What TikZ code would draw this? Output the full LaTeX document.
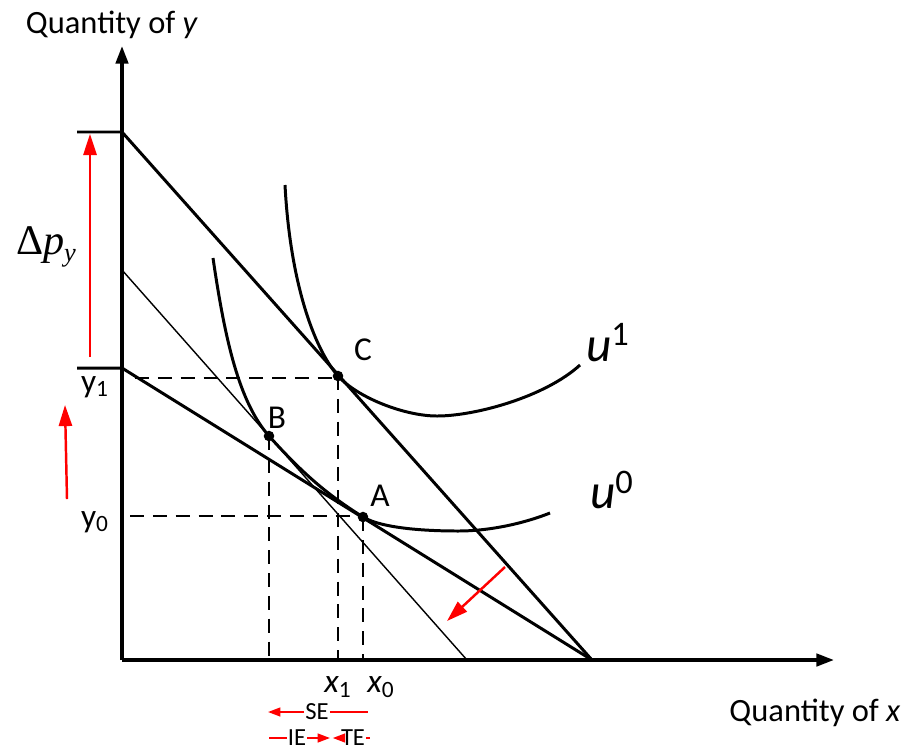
\documentclass[tikz,border=0pt]{standalone}
\usepackage{fontspec}
\setmainfont{Carlito}
\newfontfamily\deltafont{Liberation Serif}
\usetikzlibrary{calc, positioning, arrows.meta}
\definecolor{shiftRed}{HTML}{FF0000}
\definecolor{lineBlack}{HTML}{000000}

\tikzset{
  axisLine/.style={draw=lineBlack, line width=2pt, -{Triangle[length=10pt,width=7pt]}},
  budgetLine/.style={draw=lineBlack, line width=1.7pt},
  thinLine/.style={draw=lineBlack, line width=0.8pt},
  curveLine/.style={draw=lineBlack, line width=1.7pt},
  guideLine/.style={draw=lineBlack, line width=1.4pt, dash pattern=on 8pt off 5pt},
  shiftArrow/.style={draw=shiftRed, line width=1.4pt, -{Triangle[length=12pt,width=7.5pt]}},
  effectArrow/.style={draw=shiftRed, line width=1pt, -{Triangle[length=7pt,width=5pt]}},
  effectLine/.style={draw=shiftRed, line width=1pt},
  ptDot/.style={circle, fill=lineBlack, inner sep=0pt, minimum size=6pt},
  axisLabel/.style={font=\fontsize{18.5}{20}\selectfont, inner sep=1pt},
  ptLabel/.style={font=\fontsize{19}{21}\selectfont, inner sep=1pt},
  utilLabel/.style={font=\fontsize{28}{30}\selectfont, inner sep=1pt},
  effectLabel/.style={font=\fontsize{14}{16}\selectfont, inner sep=0.5pt}
}

\begin{document}
\begin{tikzpicture}[x=0.02cm, y=-0.02cm]
  \useasboundingbox (0,0) rectangle (902,751);

  % key points
  \coordinate (O) at (122,660);
  \coordinate (yTop) at (122,46);
  \coordinate (xEnd) at (834,660);
  \coordinate (yMax) at (122,132);
  \coordinate (yMid) at (122,368);
  \coordinate (yComp) at (122,270);
  \coordinate (xMax) at (592,660);
  \coordinate (xComp) at (467,660);
  \coordinate (tickTop) at (77,132);
  \coordinate (tickMid) at (77,368);
  \coordinate (C) at (338,376);
  \coordinate (B) at (269,436);
  \coordinate (A) at (363,517);
  \coordinate (yOneDash) at (135,378);
  \coordinate (yZeroDash) at (130,516);

  % axes
  \draw[axisLine] (O) -- (yTop);
  \draw[axisLine] (O) -- (xEnd);
  \node[axisLabel] (yAxisLabel) at (112,25) {Quantity of \textit{y}};
  \node[axisLabel] (xAxisLabel) at (815,713) {Quantity of \textit{x}};

  % budget lines
  \draw[budgetLine] (tickTop) -- (yMax) -- (xMax);
  \draw[budgetLine] (tickMid) -- (yMid) -- (xMax);
  \draw[thinLine] (yComp) -- (xComp);

  % indifference curves
  \draw[curveLine] (213,258) .. controls (225,340) and (239,402) .. (B)
    .. controls (304,475) and (328,495) .. (A)
    .. controls (383,529) and (430,531) .. (458,531)
    .. controls (495,531) and (530,521) .. (550,513);
  \draw[curveLine] (285,185) .. controls (290,280) and (313,347) .. (C)
    .. controls (358,398) and (405,416) .. (437,416)
    .. controls (475,416) and (545,397) .. (580,365);
  \node[utilLabel] (uOne) at (608,343) {\textit{u}\textsuperscript{1}};
  \node[utilLabel] (uZero) at (612,490) {\textit{u}\textsuperscript{0}};

  % guides
  \draw[guideLine] (yOneDash) -- (C |- yOneDash);
  \draw[guideLine] (yZeroDash) -- (A |- yZeroDash);
  \draw[guideLine] (C) -- (C |- O);
  \draw[guideLine] (A) -- (A |- O);
  \draw[guideLine] (B) -- (B |- O);

  % points
  \node[ptDot] (dotC) at (C) {};
  \node[ptDot] (dotB) at (B) {};
  \node[ptDot] (dotA) at (A) {};
  \node[ptLabel] (labC) at (363,350) {C};
  \node[ptLabel] (labB) at (277,418) {B};
  \node[ptLabel] (labA) at (380,496) {A};
  \node[ptLabel] (labYOne) at (95,387) {y\textsubscript{1}};
  \node[ptLabel] (labYZero) at (95,522) {y\textsubscript{0}};
  \node[ptLabel] (labXOne) at (338,687) {\textit{x}\textsubscript{1}};
  \node[ptLabel] (labXZero) at (381,687) {\textit{x}\textsubscript{0}};

  % price change
  \coordinate (dpStart) at (90,357);
  \coordinate (dpEnd) at (90,134);
  \coordinate (riseStart) at (67,499);
  \coordinate (riseEnd) at (65,405);
  \coordinate (shiftStart) at (505,567);
  \coordinate (shiftEnd) at (447,621);
  \draw[shiftArrow] (dpStart) -- (dpEnd);
  \draw[shiftArrow] (riseStart) -- (riseEnd);
  \draw[shiftArrow] (shiftStart) -- (shiftEnd);
  \node[font=\fontsize{24}{26}\deltafont, inner sep=1pt] (dpLabel) at (46,247)
    {Δ\textit{p}\raisebox{-0.35ex}{\fontsize{15}{16}\selectfont\textit{y}}};

  % effects
  \coordinate (seLeft) at (268,712);
  \coordinate (seRight) at (368,712);
  \coordinate (ieLeft) at (269,738);
  \coordinate (ieTip) at (330,738);
  \coordinate (teRight) at (370,738);
  \node[effectLabel] (seLabel) at (317,712) {SE};
  \node[effectLabel] (ieLabel) at (297,738) {IE};
  \node[effectLabel] (teLabel) at (353,738) {TE};
  \draw[effectArrow] (seLabel.west) -- (seLeft);
  \draw[effectLine] (seLabel.east) -- (seRight);
  \draw[effectLine] (ieLeft) -- (ieLabel.west);
  \draw[effectArrow] (ieLabel.east) -- (ieTip);
  \draw[effectArrow] (teLabel.west) -- ++(-7,0);
  \draw[effectLine] (teLabel.east) -- (teRight);
\end{tikzpicture}
\end{document}
